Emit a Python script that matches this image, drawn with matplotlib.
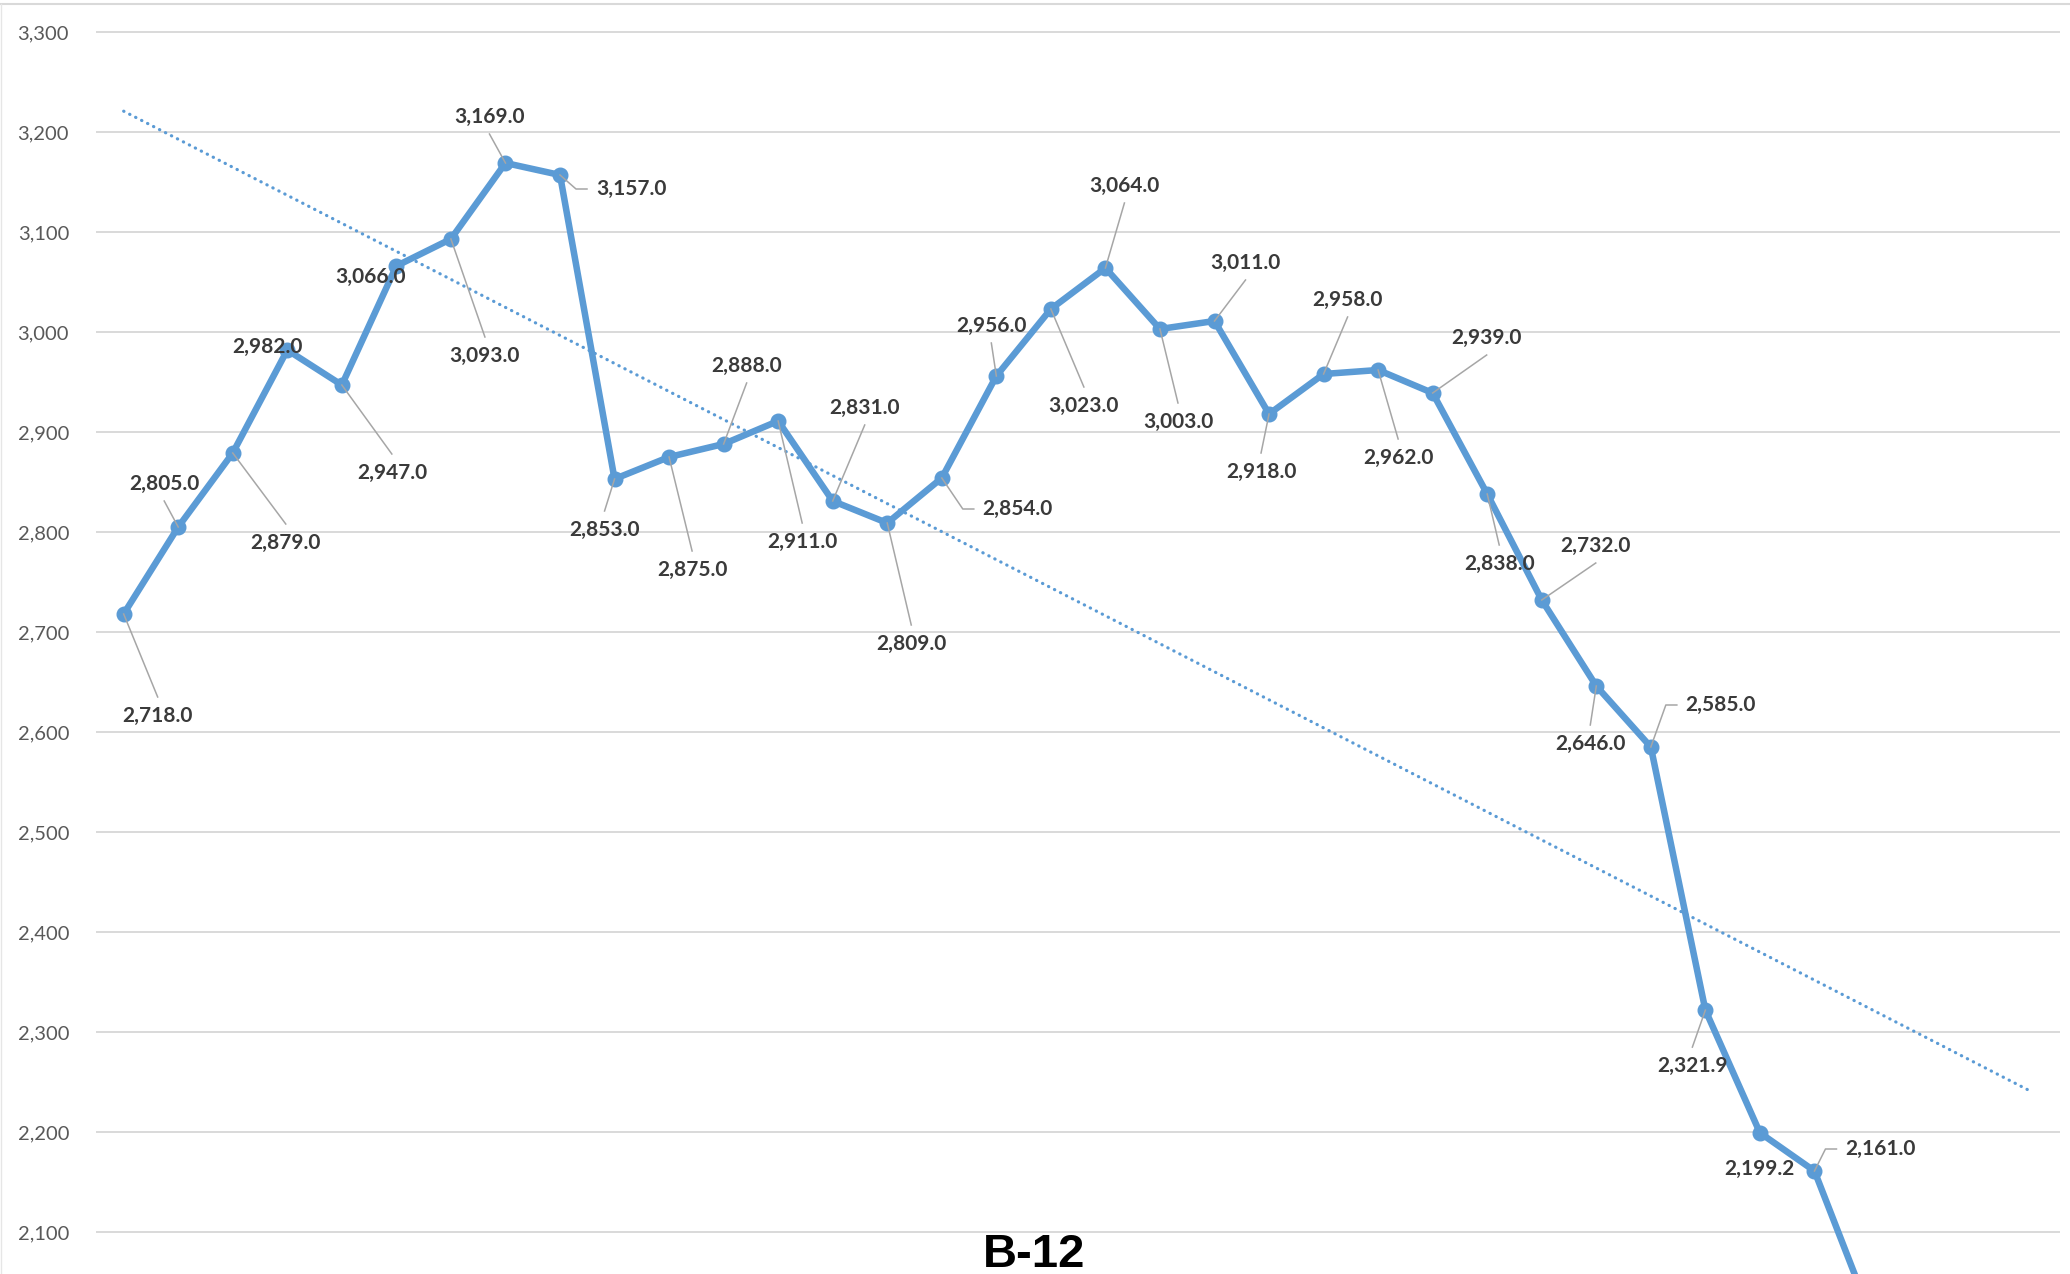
import numpy as np
import matplotlib
matplotlib.use('Agg')
from matplotlib import pyplot as plt
from matplotlib.lines import Line2D

# series B-12 (last four points fall below the visible area)
values = [2718, 2805, 2879, 2982, 2947, 3066, 3093, 3169, 3157, 2853,
          2875, 2888, 2911, 2831, 2809, 2854, 2956, 3023, 3064, 3003,
          3011, 2918, 2958, 2962, 2939, 2838, 2732, 2646, 2585, 2321.9,
          2199.2, 2161, 2021, 1870, 1705, 1540]
yticks = [2100, 2200, 2300, 2400, 2500, 2600, 2700, 2800, 2900, 3000, 3100, 3200, 3300]
title = 'B-12'

# label placement: offset of label centre from its point in pixels (x right, y down)
# and leader style: None, 'v' (from top/bottom of label) or 'h' (elbow from left side)
label_pos = [(34, 102, 'v'), (-14, -43, 'v'), (53, 90, 'v'), (-20, -3, None),
             (50, 88, 'v'), (-26, 11, None), (34, 117, 'v'), (-16, -46, 'v'),
             (71, 14, 'h'), (-10, 51, 'v'), (23, 113, 'v'), (23, -78, 'v'),
             (24, 121, 'v'), (32, -93, 'v'), (24, 121, 'v'), (76, 31, 'h'),
             (-5, -50, 'v'), (33, 97, 'v'), (19, -82, 'v'), (18, 93, 'v'),
             (31, -58, 'v'), (-8, 58, 'v'), (24, -74, 'v'), (20, 88, 'v'),
             (54, -55, 'v'), (12, 70, 'v'), (54, -54, 'v'), (-6, 58, 'v'),
             (70, -42, 'h'), (-13, 56, 'v'), (0, 36, None), (66, -22, 'h')]

blue = '#5B9BD5'
W, H = 2070, 1274
fig = plt.figure(figsize=(W / 100, H / 100), dpi=100)
ax = fig.add_axes([96.4 / W, 0, (2059.9 - 96.4) / W, (H - 20) / H])

x = np.arange(len(values))
y = np.array(values)

ax.set_xlim(-0.5, len(values) - 0.5)
ax.set_ylim(2058, 3312)

# linear trendline
b, a = np.polyfit(x, y, 1)
ax.plot(x, a + b * x, color=blue, lw=2.3, linestyle=(0, (0.1, 2.0)),
        dash_capstyle='round', zorder=2)

ax.plot(x, y, color=blue, lw=4.7, marker='o', ms=10.5, zorder=3)

ax.set_yticks(yticks)
ax.set_yticklabels([f'{t:,}' for t in yticks])
ax.set_xticks([])
ax.grid(axis='y', color='#D9D9D9', lw=1.4)
ax.set_axisbelow(True)
for s in ax.spines.values():
    s.set_visible(False)
ax.tick_params(axis='y', length=0, pad=19.7, labelsize=14.5, labelcolor='#595959')
for lab in ax.get_yticklabels():
    lab.set_family('Lato')

inv = fig.transFigure.inverted()
for i, (dx, dy, kind) in enumerate(label_pos):
    v = values[i]
    ax.annotate(f'{v:,.1f}', xy=(i, v), xytext=(dx, -dy), textcoords='offset pixels',
                ha='center', va='center', fontsize=15, fontweight='bold',
                family='Lato', color='#3A3A3A', zorder=6, annotation_clip=False)
    if kind is None:
        continue
    if kind == 'v':
        offs = [(dx, dy + 17 if dy < 0 else dy - 19), (0, 0)]
    else:
        offs = [(dx - 44, dy), (dx - 55, dy), (0, 0)]
    px, py = ax.transData.transform((i, v))
    pts = np.array([(px + ox, py - oy) for ox, oy in offs])
    fpts = inv.transform(pts)
    fig.add_artist(Line2D(fpts[:, 0], fpts[:, 1], color='#A6A6A6', lw=1.1,
                          transform=fig.transFigure, zorder=5))

# chart frame remnants
fig.add_artist(Line2D([0, 1], [(H - 4) / H, (H - 4) / H], color='#D9D9D9', lw=1.5,
                      transform=fig.transFigure))
fig.add_artist(Line2D([1 / W, 1 / W], [0, (H - 4) / H], color='#E6E6E6', lw=1.0,
                      transform=fig.transFigure))

fig.text(1034 / W, (H - 1267) / H, title, ha='center', va='baseline',
         fontsize=34, fontweight='bold', family='Liberation Sans', color='black')

fig.savefig('out.png', dpi=100)
